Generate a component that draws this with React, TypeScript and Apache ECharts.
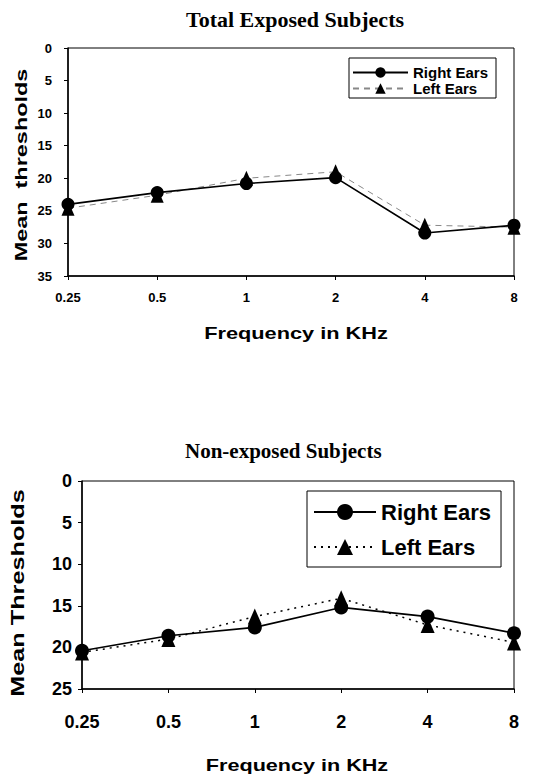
import React, { useEffect, useRef } from "react";
import * as echarts from "echarts";

const frequencies = ["0.25", "0.5", "1", "2", "4", "8"];
const exposedRight = [24, 22.2, 20.8, 19.9, 28.4, 27.2];
const exposedLeft = [24.6, 22.6, 20, 19, 27.2, 27.5];
const nonExposedRight = [20.4, 18.6, 17.6, 15.2, 16.3, 18.3];
const nonExposedLeft = [20.6, 19.0, 16.3, 14.1, 17.3, 19.4];

const SANS = "Liberation Sans, Arial, sans-serif";
const SERIF = "Liberation Serif, Times New Roman, serif";

function makeOption(cfg: any) {
  return {
    animation: false,
    backgroundColor: "#fff",
    title: {
      text: cfg.title,
      left: cfg.titleLeft,
      top: cfg.titleTop,
      padding: 0,
      textStyle: { fontFamily: SERIF, fontWeight: "bold", fontSize: cfg.titleFont, color: "#000" },
    },
    legend: {
      orient: "vertical",
      left: cfg.legend.left,
      top: cfg.legend.top,
      padding: cfg.legend.padding,
      itemWidth: cfg.legend.itemWidth,
      itemHeight: cfg.legend.itemHeight,
      itemGap: cfg.legend.itemGap,
      borderColor: "#000",
      borderWidth: 1,
      borderRadius: 0,
      data: ["Right Ears", "Left Ears"],
      textStyle: { fontFamily: SANS, fontWeight: "bold", fontSize: cfg.legend.fontSize, color: "#000" },
    },
    grid: {
      left: cfg.grid.left,
      top: cfg.grid.top,
      width: cfg.grid.width,
      height: cfg.grid.height,
      show: true,
      borderColor: "#000",
      borderWidth: 1,
      containLabel: false,
    },
    graphic: [
      {
        type: "text",
        x: cfg.xName.x,
        y: cfg.xName.y,
        scaleX: cfg.xName.scale,
        style: {
          text: "Frequency in KHz",
          fontFamily: SANS,
          fontWeight: "bold",
          fontSize: cfg.xName.size,
          fill: "#000",
          align: "center",
          verticalAlign: "middle",
        },
      },
      {
        type: "text",
        x: cfg.yName.x,
        y: cfg.yName.y,
        rotation: Math.PI / 2,
        scaleX: cfg.yName.scale,
        style: {
          text: cfg.yName.text,
          fontFamily: SANS,
          fontWeight: "bold",
          fontSize: cfg.yName.size,
          fill: "#000",
          align: "center",
          verticalAlign: "middle",
        },
      },
    ],
    xAxis: {
      type: "category",
      data: frequencies,
      boundaryGap: false,
      position: "bottom",
      axisLine: { onZero: false, lineStyle: { color: "#000", width: 1.5 } },
      axisTick: { show: true, length: 4, lineStyle: { color: "#000" } },
      axisLabel: {
        fontFamily: SANS,
        fontWeight: "bold",
        fontSize: cfg.tickFont,
        color: "#000",
        margin: cfg.xLabelMargin,
      },
      splitLine: { show: false },
    },
    yAxis: {
      type: "value",
      inverse: true,
      min: 0,
      max: cfg.yMax,
      interval: 5,
      axisLine: { show: true, lineStyle: { color: "#000", width: 1.5 } },
      axisTick: { show: true, length: 4, lineStyle: { color: "#000" } },
      axisLabel: {
        fontFamily: SANS,
        fontWeight: "bold",
        fontSize: cfg.tickFont,
        color: "#000",
        margin: cfg.yLabelMargin,
      },
      splitLine: { show: false },
    },
    series: [
      {
        name: "Right Ears",
        type: "line",
        data: cfg.right,
        symbol: "circle",
        symbolSize: cfg.circleSize,
        itemStyle: { color: "#000" },
        lineStyle: { color: "#000", width: 1.7, type: "solid" },
        z: 3,
      },
      {
        name: "Left Ears",
        type: "line",
        data: cfg.left,
        symbol: "triangle",
        symbolSize: cfg.triSize,
        itemStyle: { color: "#000" },
        lineStyle: cfg.leftLine,
        z: 2,
      },
    ],
  };
}

export default function App() {
  const ref1 = useRef<HTMLDivElement>(null);
  const ref2 = useRef<HTMLDivElement>(null);

  useEffect(() => {
    document.body.style.margin = "0";
    const c1 = echarts.init(ref1.current!, undefined, { renderer: "svg" });
    const c2 = echarts.init(ref2.current!, undefined, { renderer: "svg" });
    c1.setOption(
      makeOption({
        title: "Total Exposed Subjects",
        titleLeft: 186,
        titleTop: 8,
        titleFont: 22,
        legend: {
          left: 349,
          top: 58,
          padding: [7, 8, 2, 3],
          itemWidth: 55,
          itemHeight: 13,
          itemGap: 1,
          fontSize: 15,
        },
        grid: { left: 68, top: 48, width: 446, height: 228 },
        xName: { x: 296, y: 333, size: 17, scale: 1.28 },
        yName: { x: 21, y: 165, size: 17, scale: 1.38, text: "Mean  thresholds" },
        xLabelMargin: 15,
        yLabelMargin: 16,
        tickFont: 13,
        yMax: 35,
        right: exposedRight,
        left: exposedLeft,
        circleSize: 13,
        triSize: [13, 15],
        leftLine: { color: "#888", width: 1, type: [6, 5] },
      })
    );
    c2.setOption(
      makeOption({
        title: "Non-exposed Subjects",
        titleLeft: 185,
        titleTop: 50,
        titleFont: 21,
        legend: {
          left: 307,
          top: 101,
          padding: [10, 10, 9, 6],
          itemWidth: 62,
          itemHeight: 20,
          itemGap: 13,
          fontSize: 22,
        },
        grid: { left: 82, top: 91, width: 432, height: 208 },
        xName: { x: 297, y: 375, size: 17, scale: 1.27 },
        yName: { x: 18, y: 203, size: 19, scale: 1.33, text: "Mean Thresholds" },
        xLabelMargin: 24,
        yLabelMargin: 10,
        tickFont: 18,
        yMax: 25,
        right: nonExposedRight,
        left: nonExposedLeft,
        circleSize: 14,
        triSize: [14, 16],
        leftLine: { color: "#000", width: 1.5, type: [2, 5] },
      })
    );
    return () => {
      c1.dispose();
      c2.dispose();
    };
  }, []);

  return (
    <div style={{ position: "absolute", left: 0, top: 0, width: 543, height: 778, background: "#fff" }}>
      <div ref={ref1} style={{ width: 543, height: 390 }} />
      <div ref={ref2} style={{ width: 543, height: 388 }} />
    </div>
  );
}
